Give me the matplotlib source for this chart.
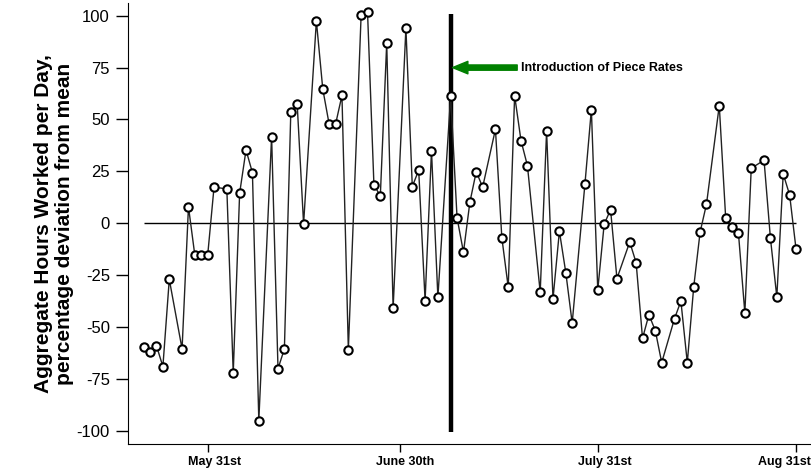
import matplotlib.pyplot as plt
from matplotlib.transforms import ScaledTranslation

plt.rcParams['font.family'] = ['Liberation Sans', 'DejaVu Sans']

# days counted from May 31st (Sundays have no observation)
dias = [-10, -9, -8, -7, -6, -4, -3, -2, -1, 0, 1, 3, 4, 5, 6, 7, 8, 10, 11, 12,
        13, 14, 15, 17, 18, 19, 20, 21, 22, 24, 25, 26, 27, 28, 29, 31, 32, 33,
        34, 35, 36, 38, 39, 40, 41, 42, 43, 45, 46, 47, 48, 49, 50, 52, 53, 54,
        55, 56, 57, 59, 60, 61, 62, 63, 64, 66, 67, 68, 69, 70, 71, 73, 74, 75,
        76, 77, 78, 80, 81, 82, 83, 84, 85, 87, 88, 89, 90, 91, 92]
desviacion = [-59.5, -62, -59, -69, -27, -60.5, 8, -15.5, -15.5, -15.5, 17.5, 16.5,
              -72, 14.5, 35.3, 24.4, -95, 41.8, -70, -60.5, 53.4, 57.4, -0.3, 97.5,
              64.7, 47.7, 47.7, 61.6, -60.8, 100.5, 101.7, 18.5, 13.2, 86.9, -40.9,
              94, 17.7, 25.6, -37.2, 35, -35.6, 61.5, 2.6, -13.9, 10.1, 24.9, 17.4,
              45.3, -6.9, -30.8, 61.5, 39.8, 27.8, -33.2, 44.5, -36.4, -3.8, -23.7,
              -48, 19.1, 54.8, -32.1, -0.5, 6.6, -26.6, -9, -19, -55.4, -44, -51.7,
              -67.1, -45.9, -37.5, -67.1, -30.8, -4.3, 9.2, 56.7, 2.7, -1.9, -4.8,
              -43.2, 26.5, 30.4, -7.2, -35.5, 23.8, 13.7, -12.3]

ticks_x = [0, 30, 61, 92]
etiquetas_x = ["May 31st", "June 30th", "July 31st", "Aug 31st"]
ticks_y = [100, 75, 50, 25, 0, -25, -50, -75, -100]
dia_piezas = 38

fig = plt.figure(figsize=(8.12, 4.72), dpi=100)
ax = fig.add_axes([0.1576, 0.0593, 0.8424, 0.9343])

ax.hlines(0, dias[0], dias[-1], color="black", linewidth=1, zorder=1)
ax.vlines(dia_piezas, -100.5, 101, color="black", linewidth=3.2, zorder=2)
ax.plot(dias, desviacion, color="#222222", linewidth=1, marker="o",
        markersize=6, markerfacecolor="white", markeredgecolor="black",
        markeredgewidth=1.5, zorder=3)

ax.annotate("", xy=(dia_piezas + 0.3, 75), xytext=(48.4, 75),
            arrowprops=dict(facecolor="green", edgecolor="green",
                            width=3.8, headwidth=9, headlength=11))
ax.text(49.0, 75, "Introduction of Piece Rates", fontsize=9,
        fontweight="bold", va="center", ha="left")

ax.set_xlim(-12.46, 94.5)
ax.set_ylim(-106.3, 106.1)
ax.set_xticks(ticks_x)
ax.set_xticklabels(etiquetas_x, fontsize=9, fontweight="bold")
ax.set_yticks(ticks_y)
ax.set_yticklabels([str(v) for v in ticks_y], fontsize=12)
ax.tick_params(axis="y", length=9, width=1, pad=4)
ax.tick_params(axis="x", length=5.5, width=1, pad=3)

# las etiquetas del eje x van un poco corridas, la ultima hacia dentro
desplazamientos = [6.5, 5.5, 7.5, -11.5]
for etiqueta, dx in zip(ax.get_xticklabels(), desplazamientos):
    etiqueta.set_transform(etiqueta.get_transform() +
                           ScaledTranslation(dx / 100, 0, fig.dpi_scale_trans))

ax.spines["top"].set_visible(False)
ax.spines["right"].set_visible(False)

ax.set_ylabel("Aggregate Hours Worked per Day,\npercentage deviation from mean",
              fontsize=15, fontweight="bold", labelpad=2, linespacing=1.15)

plt.savefig("out.png", dpi=100)
